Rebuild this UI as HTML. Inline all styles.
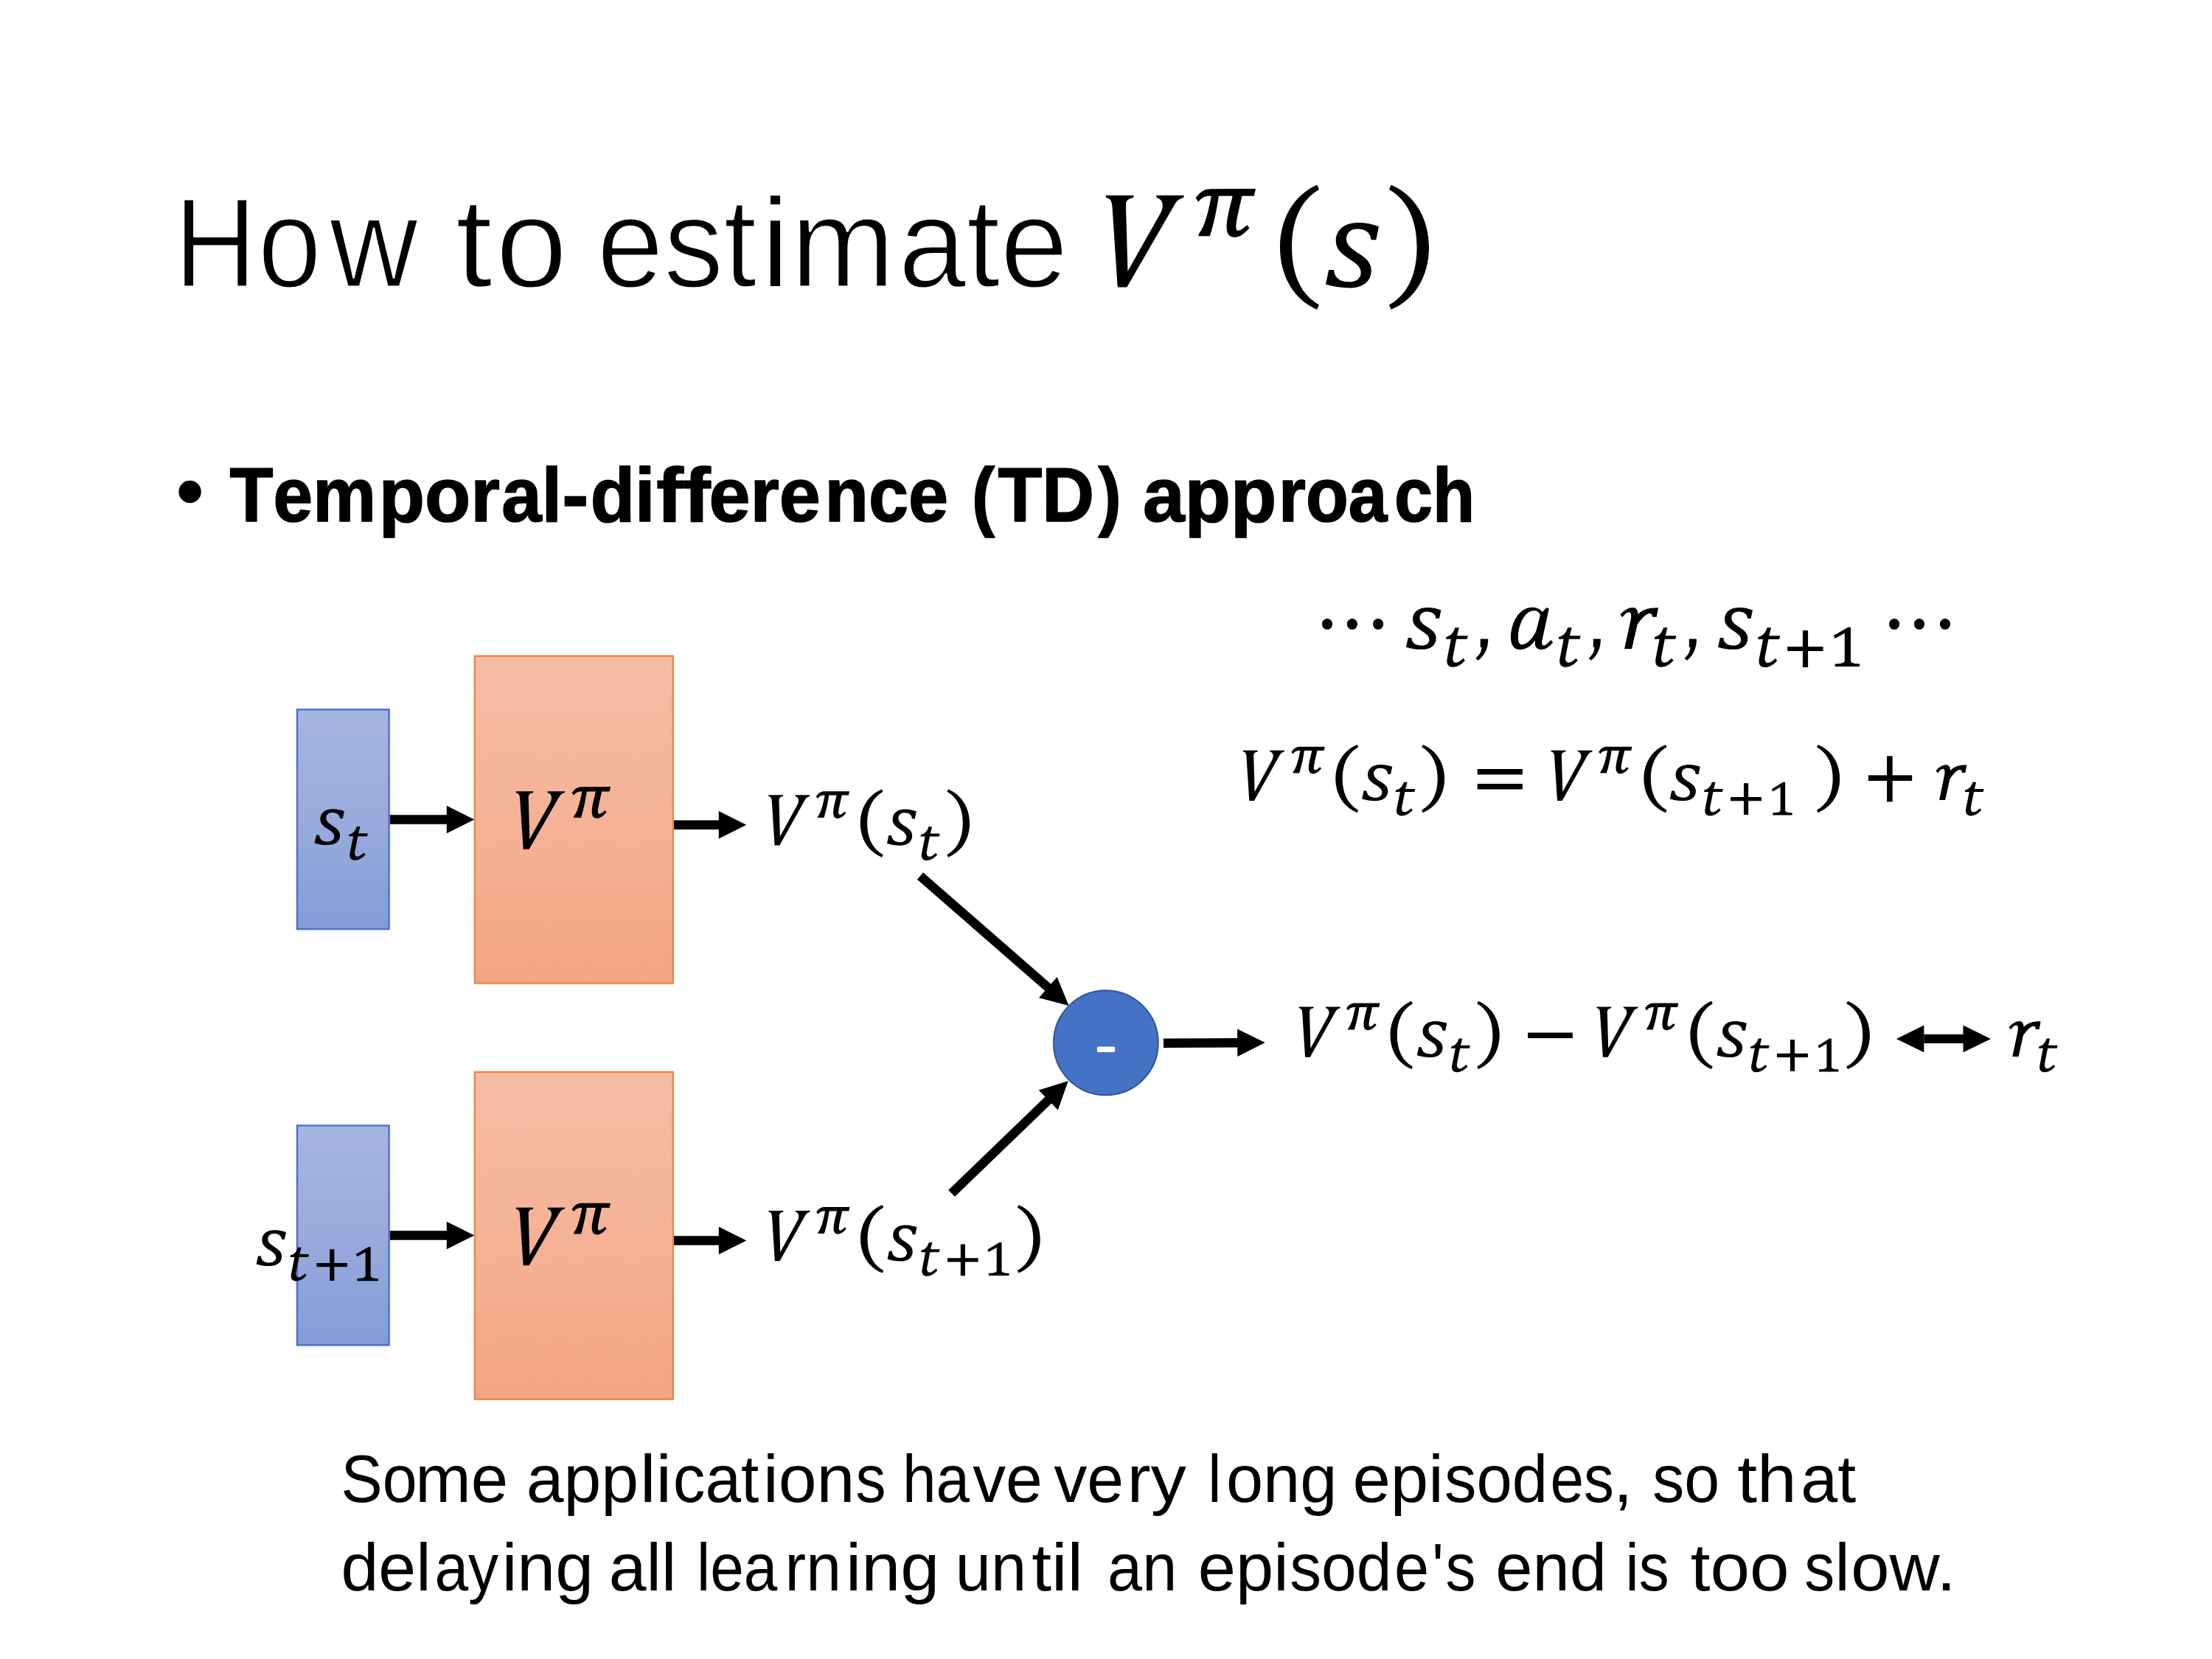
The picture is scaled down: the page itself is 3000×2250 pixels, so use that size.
<!DOCTYPE html>
<html><head><meta charset="utf-8"><title>How to estimate V(s)</title>
<style>
html,body{margin:0;padding:0;background:#fff;}
body{width:3000px;height:2250px;overflow:hidden;font-family:"Liberation Sans",sans-serif;}
svg{display:block;}
text{font-size:100px;font-kerning:none;font-variant-ligatures:none;white-space:pre;}
.si{font-family:'Liberation Serif',serif;font-style:italic}
.sr{font-family:'Liberation Serif',serif}
.ss{font-family:'Liberation Sans',sans-serif}
.sb{font-family:'Liberation Sans',sans-serif;font-weight:bold}
</style></head><body>
<svg width="3000" height="2250" viewBox="0 0 3000 2250">
<defs>
<linearGradient id="gb" x1="0" y1="0" x2="0" y2="1"><stop offset="0" stop-color="#a6b5e0"/><stop offset="0.5" stop-color="#98abdc"/><stop offset="1" stop-color="#839cd7"/></linearGradient>
<linearGradient id="go" x1="0" y1="0" x2="0" y2="1"><stop offset="0" stop-color="#f6bca5"/><stop offset="0.5" stop-color="#f5b297"/><stop offset="1" stop-color="#f4a583"/></linearGradient>
<path id="gV" d="M0.0000,0.0000 L0.3588,0.0000 L0.3506,0.0263 C0.2968,0.0333 0.2575,0.0509 0.2575,0.1035 L0.2813,0.8246 L0.6980,0.1956 C0.7466,0.1167 0.7311,0.0421 0.6505,0.0263 L0.6432,0.0000 L1.0000,0.0000 L0.9897,0.0263 C0.9380,0.0351 0.9069,0.0596 0.8811,0.0965 L0.2709,1.0000 L0.1520,1.0000 L0.0879,0.1649 C0.0817,0.0596 0.0693,0.0377 0.0072,0.0263 Z"/>
<path id="gpi" d="M0.0000,0.1918 C0.0784,0.0443 0.1699,0.0033 0.2614,0.0033 L1.0000,0.0000 L0.9739,0.1475 L0.7712,0.1475 C0.7320,0.3803 0.6667,0.6754 0.6732,0.8066 C0.6771,0.8885 0.7320,0.8885 0.8562,0.7492 L0.8954,0.8066 C0.7843,0.9705 0.7059,1.0000 0.6536,1.0000 C0.5359,1.0000 0.5098,0.8885 0.5163,0.7410 C0.5294,0.5443 0.5882,0.2984 0.6144,0.1475 L0.3856,0.1475 C0.3529,0.4131 0.3007,0.7410 0.2353,0.9787 L0.0458,0.9787 L0.0523,0.9295 C0.1438,0.8066 0.2092,0.4951 0.2614,0.1475 L0.2092,0.1475 C0.1438,0.1508 0.0915,0.2000 0.0458,0.2689 Z"/>
<path id="glp" d="M0.9494,0.0000 C0.3418,0.0835 0.0000,0.2755 0.0000,0.5008 C0.0000,0.7262 0.3418,0.9182 0.9494,1.0000 L1.0000,0.9624 C0.5190,0.8765 0.3038,0.7095 0.3038,0.5008 C0.3038,0.2922 0.5190,0.1252 1.0000,0.0376 Z"/>
<path id="gs" d="M1.0000,0.0604 L0.9490,0.2617 L0.8535,0.2617 C0.8471,0.1610 0.7580,0.0953 0.5924,0.0953 C0.4650,0.0953 0.3885,0.1610 0.3885,0.2511 C0.3885,0.3411 0.4904,0.4047 0.6433,0.4841 C0.7962,0.5636 0.8573,0.6377 0.8573,0.7331 C0.8573,0.9025 0.6943,1.0000 0.4395,1.0000 C0.2866,1.0000 0.1210,0.9767 0.0000,0.9449 L0.0573,0.7225 L0.1529,0.7225 C0.1656,0.8390 0.2611,0.9078 0.4395,0.9078 C0.5796,0.9078 0.6624,0.8496 0.6624,0.7648 C0.6624,0.6801 0.5796,0.6271 0.4395,0.5530 C0.2739,0.4682 0.1911,0.3941 0.1911,0.2775 C0.1911,0.1081 0.3503,0.0000 0.6178,0.0000 C0.7707,0.0000 0.8981,0.0286 1.0000,0.0604 Z"/>
<path id="gt" d="M0.4141,0.0000 L0.5960,0.0000 L0.5051,0.2040 L1.0000,0.2040 L0.9636,0.2915 L0.4747,0.2915 L0.3232,0.7197 C0.2889,0.8206 0.3374,0.8879 0.4545,0.8879 C0.5657,0.8879 0.6768,0.8318 0.7879,0.7758 L0.8687,0.8318 C0.6970,0.9439 0.4949,1.0000 0.3131,1.0000 C0.1111,1.0000 0.0061,0.9215 0.0606,0.7758 L0.2323,0.2915 L0.0000,0.2915 L0.0202,0.2321 C0.2121,0.2096 0.3434,0.1368 0.4141,0.0000 Z"/>
<path id="gone" d="M0.0000,0.2136 L0.5568,0.0000 L0.6594,0.0000 L0.6594,0.8442 C0.6594,0.9019 0.7205,0.9235 1.0000,0.9307 L1.0000,1.0000 L0.0546,1.0000 L0.0546,0.9307 C0.3493,0.9235 0.4258,0.9019 0.4258,0.8442 L0.4258,0.1515 L0.0546,0.2857 Z"/>
<path id="gplus" d="M0.4286,0.0000 L0.5762,0.0000 L0.5762,0.4398 L1.0000,0.4398 L1.0000,0.5602 L0.5762,0.5602 L0.5762,1.0000 L0.4286,1.0000 L0.4286,0.5602 L0.0000,0.5602 L0.0000,0.4398 L0.4286,0.4398 Z"/>
<path id="ga" d="M0.8458,0.0040 L0.9051,0.0292 L0.7431,0.7787 C0.7273,0.8577 0.7431,0.9051 0.7826,0.9051 C0.8300,0.9051 0.8933,0.8340 0.9526,0.7747 L1.0000,0.8300 C0.9249,0.9289 0.8221,1.0000 0.7194,1.0000 C0.6245,1.0000 0.5771,0.9447 0.5731,0.8577 L0.5771,0.7787 C0.4901,0.9130 0.3636,1.0000 0.2213,1.0000 C0.0711,1.0000 0.0000,0.8893 0.0000,0.7154 C0.0000,0.3992 0.1739,0.0000 0.5138,0.0000 C0.6245,0.0000 0.6957,0.0435 0.7510,0.1067 Z M0.6996,0.1779 C0.6719,0.1146 0.6245,0.0791 0.5455,0.0791 C0.3162,0.0791 0.1739,0.4466 0.1739,0.6996 C0.1739,0.8182 0.1976,0.8814 0.2688,0.8814 C0.3953,0.8814 0.5375,0.6996 0.6008,0.5573 Z"/>
<path id="gr" d="M0.0000,0.1687 C0.1096,0.0602 0.2237,0.0024 0.3289,0.0024 C0.4167,0.0024 0.4605,0.0602 0.4693,0.1647 C0.5833,0.0602 0.7325,0.0040 1.0000,0.0080 L0.9561,0.2289 L0.8465,0.2289 C0.8421,0.1727 0.8202,0.1446 0.7763,0.1446 C0.6711,0.1446 0.5395,0.2932 0.4518,0.4056 L0.3026,1.0000 L0.1096,1.0000 L0.2763,0.2932 C0.2982,0.1807 0.2851,0.1205 0.2281,0.1165 C0.1623,0.1165 0.1096,0.1807 0.0570,0.2369 Z"/>
<path id="gcomma" d="M0.3714,0.0000 L0.9786,0.0000 C1.0000,0.4261 0.6929,0.7957 0.1929,1.0000 L0.0000,0.8957 C0.3357,0.7304 0.4786,0.5565 0.4643,0.3826 L0.3714,0.3826 Z"/>
</defs>
<rect x="0" y="0" width="3000" height="2250" fill="#fff"/>
<text class="ss" transform="matrix(1.5480 0 0 1.7200 236.17 388.60)" fill="#000" stroke="#fff" stroke-width="1.716" stroke-linejoin="round">H</text>
<text class="ss" transform="matrix(1.5480 0 0 1.7200 349.80 388.60)" fill="#000" stroke="#fff" stroke-width="1.716" stroke-linejoin="round">o</text>
<text class="ss" transform="matrix(1.6624 0 0 1.7200 447.04 388.60)" fill="#000" stroke="#fff" stroke-width="1.656" stroke-linejoin="round">w</text>
<text class="ss" transform="matrix(1.8232 0 0 1.7200 617.41 388.60)" fill="#000" stroke="#fff" stroke-width="1.581" stroke-linejoin="round">t</text>
<text class="ss" transform="matrix(1.7473 0 0 1.7200 672.16 388.60)" fill="#000" stroke="#fff" stroke-width="1.615" stroke-linejoin="round">o</text>
<text class="ss" transform="matrix(1.6252 0 0 1.7200 809.60 388.60)" fill="#000" stroke="#fff" stroke-width="1.675" stroke-linejoin="round">est</text>
<text class="ss" transform="matrix(1.8232 0 0 1.7200 1031.19 388.60)" fill="#000" stroke="#fff" stroke-width="1.581" stroke-linejoin="round">i</text>
<text class="ss" transform="matrix(1.6998 0 0 1.7200 1072.31 388.60)" fill="#000" stroke="#fff" stroke-width="1.638" stroke-linejoin="round">m</text>
<text class="ss" transform="matrix(1.6582 0 0 1.7200 1218.26 388.60)" fill="#000" stroke="#fff" stroke-width="1.658" stroke-linejoin="round">ate</text>
<use href="#gV" transform="matrix(106.500 0 0 124.500 1499.50 265.00)"/>
<use href="#gpi" transform="matrix(81.400 0 0 65.700 1621.60 256.00)"/>
<use href="#glp" transform="matrix(53.000 0 0 169.100 1736.00 250.70)"/>
<use href="#gs" transform="matrix(72.000 0 0 88.500 1798.00 302.00)"/>
<use href="#glp" transform="matrix(-54.000 0 0 169.100 1938.00 250.70)"/>
<circle cx="257.6" cy="667" r="15.2" fill="#000"/>
<text class="sb" transform="matrix(0.9658 0 0 1.0400 311.62 707.40)" fill="#000" stroke="#000" stroke-width="1.597" stroke-linejoin="round">Tem</text>
<text class="sb" transform="matrix(1.0191 0 0 1.0400 513.78 707.40)" fill="#000" stroke="#000" stroke-width="1.554" stroke-linejoin="round">por</text>
<text class="sb" transform="matrix(0.9784 0 0 1.0400 680.23 707.40)" fill="#000" stroke="#000" stroke-width="1.586" stroke-linejoin="round">al</text>
<text class="sb" transform="matrix(1.0870 0 0 1.0400 762.35 707.40)" fill="#000" stroke="#000" stroke-width="1.505" stroke-linejoin="round">-</text>
<text class="sb" transform="matrix(0.9899 0 0 1.0400 800.64 707.40)" fill="#000" stroke="#000" stroke-width="1.577" stroke-linejoin="round">di</text>
<text class="sb" transform="matrix(1.1024 0 0 1.0400 890.24 707.40)" fill="#000" stroke="#000" stroke-width="1.494" stroke-linejoin="round">ff</text>
<text class="sb" transform="matrix(1.0082 0 0 1.0400 961.56 707.40)" fill="#000" stroke="#000" stroke-width="1.562" stroke-linejoin="round">ere</text>
<text class="sb" transform="matrix(0.9729 0 0 1.0400 1118.59 707.40)" fill="#000" stroke="#000" stroke-width="1.591" stroke-linejoin="round">nce</text>
<text class="sb" transform="matrix(0.9360 0 0 1.0400 1317.93 707.40)" fill="#000" stroke="#000" stroke-width="1.622" stroke-linejoin="round">(</text>
<text class="sb" transform="matrix(0.9799 0 0 1.0400 1353.40 707.40)" fill="#000" stroke="#000" stroke-width="1.585" stroke-linejoin="round">TD</text>
<text class="sb" transform="matrix(0.9360 0 0 1.0400 1489.50 707.40)" fill="#000" stroke="#000" stroke-width="1.622" stroke-linejoin="round">)</text>
<text class="sb" transform="matrix(1.0196 0 0 1.0400 1550.11 707.40)" fill="#000" stroke="#000" stroke-width="1.554" stroke-linejoin="round">app</text>
<text class="sb" transform="matrix(0.9462 0 0 1.0400 1734.06 707.40)" fill="#000" stroke="#000" stroke-width="1.613" stroke-linejoin="round">roa</text>
<text class="sb" transform="matrix(0.9360 0 0 1.0400 1891.01 707.40)" fill="#000" stroke="#000" stroke-width="1.622" stroke-linejoin="round">ch</text>
<rect x="403.00" y="962.30" width="124.60" height="297.80" fill="url(#gb)" stroke="#4a6fd0" stroke-width="2.40"/>
<rect x="643.90" y="889.70" width="268.80" height="443.80" fill="url(#go)" stroke="#ee8640" stroke-width="2.40"/>
<rect x="403.00" y="1526.50" width="124.60" height="297.80" fill="url(#gb)" stroke="#4a6fd0" stroke-width="2.40"/>
<rect x="643.90" y="1453.90" width="268.80" height="443.80" fill="url(#go)" stroke="#ee8640" stroke-width="2.40"/>
<line x1="529.00" y1="1111.50" x2="606.80" y2="1111.50" stroke="#000" stroke-width="12.50"/>
<polygon points="643.30,1111.50 605.80,1130.25 605.80,1092.75" fill="#000"/>
<line x1="914.00" y1="1118.70" x2="975.80" y2="1118.70" stroke="#000" stroke-width="12.50"/>
<polygon points="1012.30,1118.70 974.80,1137.45 974.80,1099.95" fill="#000"/>
<line x1="529.00" y1="1675.42" x2="606.80" y2="1675.42" stroke="#000" stroke-width="12.50"/>
<polygon points="643.30,1675.42 605.80,1694.17 605.80,1656.67" fill="#000"/>
<line x1="914.00" y1="1682.62" x2="975.80" y2="1682.62" stroke="#000" stroke-width="12.50"/>
<polygon points="1012.30,1682.62 974.80,1701.37 974.80,1663.87" fill="#000"/>
<line x1="1248.00" y1="1188.00" x2="1422.10" y2="1339.90" stroke="#000" stroke-width="12.50"/>
<polygon points="1449.60,1363.90 1409.02,1353.37 1433.67,1325.12" fill="#000"/>
<line x1="1290.60" y1="1618.40" x2="1422.51" y2="1491.32" stroke="#000" stroke-width="12.50"/>
<polygon points="1448.80,1466.00 1434.80,1505.52 1408.78,1478.51" fill="#000"/>
<line x1="1578.00" y1="1414.80" x2="1679.20" y2="1414.21" stroke="#000" stroke-width="12.50"/>
<polygon points="1715.70,1414.00 1678.31,1432.97 1678.09,1395.47" fill="#000"/>
<line x1="2609.40" y1="1408.90" x2="2663.50" y2="1408.90" stroke="#000" stroke-width="12.20"/>
<polygon points="2700.00,1408.90 2662.50,1427.25 2662.50,1390.55" fill="#000"/>
<polygon points="2571.90,1408.90 2609.40,1427.25 2609.40,1390.55" fill="#000"/>
<circle cx="1499.85" cy="1414.3" r="70.9" fill="#4472c4" stroke="#35599f" stroke-width="2.2"/>
<rect x="1487.9" y="1419.6" width="24.4" height="7.5" rx="2" fill="#fff"/>
<use href="#gV" transform="matrix(66.800 0 0 78.500 699.50 1073.20)"/>
<use href="#gpi" transform="matrix(52.500 0 0 42.700 775.60 1067.10)"/>
<use href="#gV" transform="matrix(66.800 0 0 78.500 699.50 1637.80)"/>
<use href="#gpi" transform="matrix(52.500 0 0 42.700 775.60 1631.70)"/>
<use href="#gs" transform="matrix(40.200 0 0 48.800 426.70 1097.30)"/>
<use href="#gt" transform="matrix(25.800 0 0 45.900 473.10 1120.90)"/>
<use href="#gs" transform="matrix(40.200 0 0 48.800 347.70 1668.30)"/>
<use href="#gt" transform="matrix(25.500 0 0 45.800 393.50 1691.70)"/>
<use href="#gplus" transform="matrix(41.500 0 0 42.800 429.50 1694.20)"/>
<use href="#gone" transform="matrix(30.300 0 0 46.100 482.70 1691.20)"/>
<use href="#gV" transform="matrix(56.500 0 0 68.200 1042.00 1078.20)"/>
<use href="#gpi" transform="matrix(45.300 0 0 36.700 1106.80 1073.20)"/>
<use href="#glp" transform="matrix(30.800 0 0 92.300 1166.80 1070.40)"/>
<use href="#gs" transform="matrix(39.800 0 0 49.100 1203.00 1097.60)"/>
<use href="#gt" transform="matrix(26.000 0 0 45.800 1248.60 1121.20)"/>
<use href="#glp" transform="matrix(-30.700 0 0 92.300 1315.10 1070.40)"/>
<use href="#gV" transform="matrix(56.500 0 0 68.200 1042.30 1642.00)"/>
<use href="#gpi" transform="matrix(45.300 0 0 36.700 1107.20 1637.00)"/>
<use href="#glp" transform="matrix(31.100 0 0 92.300 1167.10 1634.20)"/>
<use href="#gs" transform="matrix(39.800 0 0 49.100 1203.60 1661.40)"/>
<use href="#gt" transform="matrix(25.500 0 0 45.800 1249.20 1685.00)"/>
<use href="#gplus" transform="matrix(41.600 0 0 42.600 1285.00 1687.60)"/>
<use href="#gone" transform="matrix(29.300 0 0 44.800 1339.20 1685.10)"/>
<use href="#glp" transform="matrix(-30.800 0 0 92.300 1410.70 1634.20)"/>
<ellipse cx="1800.0" cy="846.4" rx="7.1" ry="7.4" fill="#000"/>
<ellipse cx="1833.9" cy="846.4" rx="7.1" ry="7.4" fill="#000"/>
<ellipse cx="1869.1" cy="846.4" rx="7.1" ry="7.4" fill="#000"/>
<ellipse cx="2569.1" cy="846.4" rx="7.1" ry="7.4" fill="#000"/>
<ellipse cx="2603.0" cy="846.4" rx="7.1" ry="7.4" fill="#000"/>
<ellipse cx="2638.0" cy="846.4" rx="7.1" ry="7.4" fill="#000"/>
<use href="#gs" transform="matrix(47.400 0 0 56.800 1907.00 824.00)"/>
<use href="#gt" transform="matrix(29.800 0 0 53.600 1961.00 851.20)"/>
<use href="#gcomma" transform="matrix(17.300 0 0 29.200 2001.30 866.50)"/>
<use href="#ga" transform="matrix(57.200 0 0 57.200 2049.00 823.80)"/>
<use href="#gt" transform="matrix(29.900 0 0 53.600 2113.80 851.20)"/>
<use href="#gcomma" transform="matrix(16.500 0 0 29.200 2154.70 866.50)"/>
<use href="#gr" transform="matrix(51.500 0 0 56.300 2197.50 823.80)"/>
<use href="#gt" transform="matrix(29.600 0 0 53.600 2243.80 851.20)"/>
<use href="#gcomma" transform="matrix(16.500 0 0 29.200 2284.70 866.50)"/>
<use href="#gs" transform="matrix(46.900 0 0 56.800 2330.10 824.00)"/>
<use href="#gt" transform="matrix(30.100 0 0 53.800 2384.10 851.20)"/>
<use href="#gplus" transform="matrix(48.400 0 0 49.800 2424.20 855.10)"/>
<use href="#gone" transform="matrix(35.200 0 0 53.300 2486.80 850.70)"/>
<use href="#gV" transform="matrix(56.500 0 0 68.200 1685.70 1017.70)"/>
<use href="#gpi" transform="matrix(45.300 0 0 36.700 1751.50 1012.70)"/>
<use href="#glp" transform="matrix(30.900 0 0 92.300 1811.30 1009.90)"/>
<use href="#gs" transform="matrix(41.000 0 0 49.100 1847.20 1037.10)"/>
<use href="#gt" transform="matrix(26.600 0 0 45.800 1892.80 1060.70)"/>
<use href="#glp" transform="matrix(-30.900 0 0 92.300 1959.10 1009.90)"/>
<rect x="2003.7" y="1043" width="61.2" height="7.5" fill="#000"/><rect x="2003.7" y="1063" width="61.2" height="7.5" fill="#000"/>
<use href="#gV" transform="matrix(56.500 0 0 68.200 2103.40 1017.70)"/>
<use href="#gpi" transform="matrix(45.300 0 0 36.700 2168.20 1012.70)"/>
<use href="#glp" transform="matrix(31.100 0 0 92.300 2229.40 1009.90)"/>
<use href="#gs" transform="matrix(41.000 0 0 49.100 2264.80 1037.10)"/>
<use href="#gt" transform="matrix(25.900 0 0 45.800 2311.10 1060.70)"/>
<use href="#gplus" transform="matrix(41.800 0 0 42.600 2347.10 1062.30)"/>
<use href="#gone" transform="matrix(27.800 0 0 44.800 2402.80 1060.80)"/>
<use href="#glp" transform="matrix(-31.200 0 0 92.300 2495.20 1009.90)"/>
<rect x="2533.9" y="1051.4" width="59.3" height="7.6" fill="#000"/><rect x="2559.1" y="1025.4" width="7.6" height="62" fill="#000"/>
<use href="#gr" transform="matrix(41.700 0 0 48.000 2625.60 1037.10)"/>
<use href="#gt" transform="matrix(25.800 0 0 45.800 2664.80 1060.70)"/>
<use href="#gV" transform="matrix(56.500 0 0 68.200 1761.50 1365.50)"/>
<use href="#gpi" transform="matrix(45.300 0 0 36.700 1826.10 1360.50)"/>
<use href="#glp" transform="matrix(30.300 0 0 92.300 1885.60 1357.70)"/>
<use href="#gs" transform="matrix(40.500 0 0 49.100 1921.80 1384.90)"/>
<use href="#gt" transform="matrix(26.100 0 0 45.800 1967.80 1408.50)"/>
<use href="#glp" transform="matrix(-30.400 0 0 92.300 2033.70 1357.70)"/>
<rect x="2072.2" y="1400.5" width="60.7" height="7.5" fill="#000"/>
<use href="#gV" transform="matrix(56.500 0 0 68.200 2165.30 1365.50)"/>
<use href="#gpi" transform="matrix(45.300 0 0 36.700 2231.10 1360.50)"/>
<use href="#glp" transform="matrix(30.400 0 0 92.300 2292.40 1357.70)"/>
<use href="#gs" transform="matrix(40.500 0 0 49.100 2328.40 1384.90)"/>
<use href="#gt" transform="matrix(25.800 0 0 45.800 2373.90 1408.50)"/>
<use href="#gplus" transform="matrix(42.000 0 0 42.600 2409.90 1410.10)"/>
<use href="#gone" transform="matrix(27.800 0 0 44.800 2465.60 1408.60)"/>
<use href="#glp" transform="matrix(-31.600 0 0 92.300 2535.90 1357.70)"/>
<use href="#gr" transform="matrix(43.000 0 0 48.000 2724.60 1384.90)"/>
<use href="#gt" transform="matrix(25.600 0 0 45.800 2765.00 1408.50)"/>
<text class="ss" transform="matrix(0.8435 0 0 0.9100 462.47 2036.60)" fill="#000">So</text>
<text class="ss" transform="matrix(0.9059 0 0 0.9100 563.28 2036.60)" fill="#000">me</text>
<text class="ss" transform="matrix(0.9135 0 0 0.9100 713.72 2036.60)" fill="#000">app</text>
<text class="ss" transform="matrix(0.9646 0 0 0.9100 868.02 2036.60)" fill="#000">li</text>
<text class="ss" transform="matrix(0.8737 0 0 0.9100 912.79 2036.60)" fill="#000">cat</text>
<text class="ss" transform="matrix(0.9321 0 0 0.9100 1035.06 2036.60)" fill="#000">ion</text>
<text class="ss" transform="matrix(0.8190 0 0 0.9100 1160.41 2036.60)" fill="#000">s</text>
<text class="ss" transform="matrix(0.8190 0 0 0.9100 1224.01 2036.60)" fill="#000">ha</text>
<text class="ss" transform="matrix(0.8966 0 0 0.9100 1319.19 2036.60)" fill="#000">ve</text>
<text class="ss" transform="matrix(0.8966 0 0 0.9100 1429.49 2036.60)" fill="#000">ve</text>
<text class="ss" transform="matrix(0.9646 0 0 0.9100 1528.62 2036.60)" fill="#000">ry</text>
<text class="ss" transform="matrix(0.8190 0 0 0.9100 1638.28 2036.60)" fill="#000">l</text>
<text class="ss" transform="matrix(0.9027 0 0 0.9100 1662.91 2036.60)" fill="#000">ong</text>
<text class="ss" transform="matrix(0.9236 0 0 0.9100 1834.48 2036.60)" fill="#000">epi</text>
<text class="ss" transform="matrix(0.8684 0 0 0.9100 1959.08 2036.60)" fill="#000">sod</text>
<text class="ss" transform="matrix(0.8190 0 0 0.9100 2102.39 2036.60)" fill="#000">es</text>
<text class="ss" transform="matrix(0.9646 0 0 0.9100 2187.70 2036.60)" fill="#000">,</text>
<text class="ss" transform="matrix(0.8618 0 0 0.9100 2241.20 2036.60)" fill="#000">so</text>
<text class="ss" transform="matrix(0.9646 0 0 0.9100 2356.18 2036.60)" fill="#000">th</text>
<text class="ss" transform="matrix(0.8990 0 0 0.9100 2442.28 2036.60)" fill="#000">at</text>
<text class="ss" transform="matrix(0.9147 0 0 0.9100 462.46 2157.00)" fill="#000">del</text>
<text class="ss" transform="matrix(0.8214 0 0 0.9100 589.41 2157.00)" fill="#000">ay</text>
<text class="ss" transform="matrix(0.9317 0 0 0.9100 680.67 2157.00)" fill="#000">ing</text>
<text class="ss" transform="matrix(0.9135 0 0 0.9100 825.82 2157.00)" fill="#000">all</text>
<text class="ss" transform="matrix(0.8190 0 0 0.9100 945.04 2157.00)" fill="#000">lea</text>
<text class="ss" transform="matrix(0.8591 0 0 0.9100 1064.60 2157.00)" fill="#000">rn</text>
<text class="ss" transform="matrix(0.9525 0 0 0.9100 1147.03 2157.00)" fill="#000">ing</text>
<text class="ss" transform="matrix(0.8652 0 0 0.9100 1295.78 2157.00)" fill="#000">un</text>
<text class="ss" transform="matrix(0.9646 0 0 0.9100 1399.22 2157.00)" fill="#000">til</text>
<text class="ss" transform="matrix(0.8459 0 0 0.9100 1502.11 2157.00)" fill="#000">an</text>
<text class="ss" transform="matrix(0.9211 0 0 0.9100 1624.79 2157.00)" fill="#000">epi</text>
<text class="ss" transform="matrix(0.8566 0 0 0.9100 1749.22 2157.00)" fill="#000">sod</text>
<text class="ss" transform="matrix(0.8482 0 0 0.9100 1890.90 2157.00)" fill="#000">e</text>
<text class="ss" transform="matrix(0.8190 0 0 0.9100 1942.31 2157.00)" fill="#000">'</text>
<text class="ss" transform="matrix(0.8190 0 0 0.9100 1960.61 2157.00)" fill="#000">s</text>
<text class="ss" transform="matrix(0.9036 0 0 0.9100 2028.16 2157.00)" fill="#000">end</text>
<text class="ss" transform="matrix(0.8190 0 0 0.9100 2204.62 2157.00)" fill="#000">is</text>
<text class="ss" transform="matrix(0.9646 0 0 0.9100 2292.65 2157.00)" fill="#000">too</text>
<text class="ss" transform="matrix(0.8190 0 0 0.9100 2447.31 2157.00)" fill="#000">s</text>
<text class="ss" transform="matrix(0.9102 0 0 0.9100 2488.57 2157.00)" fill="#000">l</text>
<text class="ss" transform="matrix(0.9404 0 0 0.9100 2510.35 2157.00)" fill="#000">ow</text>
<text class="ss" transform="matrix(0.9646 0 0 0.9100 2626.20 2157.00)" fill="#000">.</text>
</svg>
</body></html>
